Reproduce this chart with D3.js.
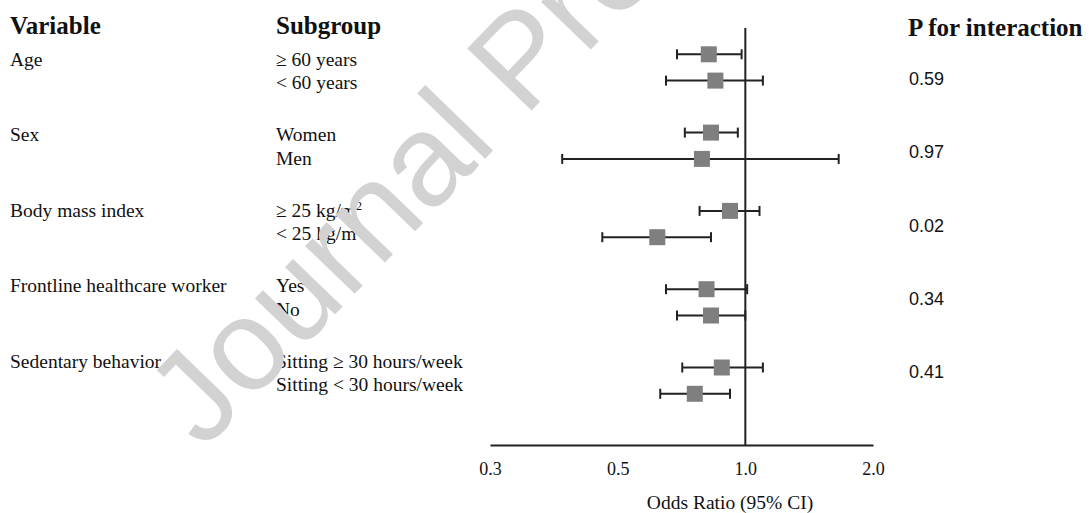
<!DOCTYPE html>
<html>

<head>
    <script src="https://cdnjs.cloudflare.com/ajax/libs/d3/7.8.5/d3.min.js"></script>
    <style>
        body { margin: 0; background: #fff; }
    </style>
</head>

<body>
    <script>
        // data
        var variables = ['Age', 'Sex', 'Body mass index', 'Frontline healthcare worker', 'Sedentary behavior'];
        var subgroups = [
            ['\u2265 60 years', '< 60 years'],
            ['Women', 'Men'],
            ['\u2265 25 kg/m', '< 25 kg/m'],
            ['Yes', 'No'],
            ['Sitting \u2265 30 hours/week', 'Sitting < 30 hours/week']
        ];
        var oddsRatio = [[0.82, 0.85], [0.83, 0.79], [0.92, 0.62], [0.81, 0.83], [0.88, 0.76]];
        var ciLow = [[0.69, 0.65], [0.72, 0.37], [0.78, 0.46], [0.65, 0.69], [0.71, 0.63]];
        var ciHigh = [[0.98, 1.10], [0.96, 1.66], [1.08, 0.83], [1.01, 1.00], [1.10, 0.92]];
        var pInteraction = ['0.59', '0.97', '0.02', '0.34', '0.41'];
        var tickValues = [0.25, 0.5, 1, 2];
        var tickLabels = ['0.3', '0.5', '1.0', '2.0'];

        var width = 1089,
            height = 513,
            serif = '"Liberation Serif", "Times New Roman", serif',
            sans = '"Liberation Sans", Arial, sans-serif',
            ink = '#222',
            txt = '#111';

        var svg = d3.select('body')
            .append('svg')
            .attr('width', width)
            .attr('height', height);

        var x = d3.scaleLog().base(2)
            .domain([0.25, 2])
            .range([490, 873]);

        // marker rows, text rows and p-value rows
        var yGroup = d3.scalePoint().domain(variables).range([54.3, 367.5]);
        var yText = d3.scalePoint().domain(variables).range([65.7, 368]);
        var yP = d3.scalePoint().domain(variables).range([85, 378]);
        var rowStep = 26.3,
            textStep = 23.3;

        var rows = [];
        variables.forEach(function(v, g) {
            subgroups[g].forEach(function(s, r) {
                rows.push({
                    variable: v,
                    label: s,
                    r: r,
                    or: oddsRatio[g][r],
                    lo: ciLow[g][r],
                    hi: ciHigh[g][r]
                });
            });
        });

        // headers
        function header(xPos, yPos, label) {
            svg.append('text').attr('x', xPos).attr('y', yPos).text(label)
                .attr('fill', txt)
                .style('font-family', serif).style('font-weight', 'bold').style('font-size', '25px');
        }
        header(10, 34, 'Variable');
        header(276, 34, 'Subgroup');
        header(908, 36, 'P for interaction');

        // variable names
        svg.selectAll('.var')
            .data(variables)
            .enter().append('text')
            .attr('class', 'var')
            .attr('x', 10)
            .attr('y', function(d) { return yText(d); })
            .attr('fill', txt)
            .style('font-family', serif)
            .style('font-size', '19.5px')
            .text(function(d) { return d; });

        // subgroup names
        var sub = svg.selectAll('.sub')
            .data(rows)
            .enter().append('text')
            .attr('class', 'sub')
            .attr('x', 276)
            .attr('y', function(d) { return yText(d.variable) + d.r * textStep; })
            .attr('fill', txt)
            .style('font-family', serif)
            .style('font-size', '19.5px')
            .text(function(d) { return d.label; });

        sub.filter(function(d) { return d.variable === 'Body mass index'; })
            .append('tspan')
            .attr('baseline-shift', 'super')
            .style('font-size', '12px')
            .text('2');

        // p values
        svg.selectAll('.p')
            .data(pInteraction)
            .enter().append('text')
            .attr('class', 'p')
            .attr('x', 909)
            .attr('y', function(d, i) { return yP(variables[i]); })
            .attr('fill', txt)
            .style('font-family', sans)
            .style('font-size', '18px')
            .text(function(d) { return d; });

        // x axis
        var axis = svg.append('g')
            .attr('transform', 'translate(0,445)')
            .call(d3.axisBottom(x)
                .tickValues(tickValues)
                .tickFormat(function(d, i) { return tickLabels[i]; })
                .tickSize(0)
                .tickSizeOuter(0));

        axis.select('.domain').attr('stroke', ink).attr('stroke-width', 2);
        axis.selectAll('text')
            .attr('y', 30)
            .attr('dy', 0)
            .attr('fill', txt)
            .style('font-family', serif)
            .style('font-size', '18px');

        svg.append('text')
            .attr('x', 730)
            .attr('y', 509)
            .attr('text-anchor', 'middle')
            .attr('fill', txt)
            .style('font-family', serif)
            .style('font-size', '19.5px')
            .text('Odds Ratio (95% CI)');

        // reference line at 1
        svg.append('line')
            .attr('x1', x(1)).attr('x2', x(1))
            .attr('y1', 28).attr('y2', 445)
            .attr('stroke', ink).attr('stroke-width', 2);

        // confidence intervals
        var rowG = svg.selectAll('.row')
            .data(rows)
            .enter().append('g')
            .attr('class', 'row')
            .attr('transform', function(d) {
                return 'translate(0,' + (yGroup(d.variable) + d.r * rowStep) + ')';
            });

        rowG.append('line')
            .attr('x1', function(d) { return x(d.lo); })
            .attr('x2', function(d) { return x(d.hi); })
            .attr('stroke', ink).attr('stroke-width', 2);

        rowG.append('line')
            .attr('x1', function(d) { return x(d.lo); })
            .attr('x2', function(d) { return x(d.lo); })
            .attr('y1', -5).attr('y2', 5)
            .attr('stroke', ink).attr('stroke-width', 2);

        rowG.append('line')
            .attr('x1', function(d) { return x(d.hi); })
            .attr('x2', function(d) { return x(d.hi); })
            .attr('y1', -5).attr('y2', 5)
            .attr('stroke', ink).attr('stroke-width', 2);

        rowG.append('rect')
            .attr('x', function(d) { return x(d.or) - 8; })
            .attr('y', -8)
            .attr('width', 16)
            .attr('height', 16)
            .attr('fill', '#7f7f7f');

        // watermark
        svg.append('text')
            .attr('transform', 'translate(203,451) rotate(-46)')
            .style('font-family', sans)
            .style('font-size', '130px')
            .attr('fill', '#d2d2d2')
            .text('Journal Pre-proof');
    </script>
</body>

</html>
